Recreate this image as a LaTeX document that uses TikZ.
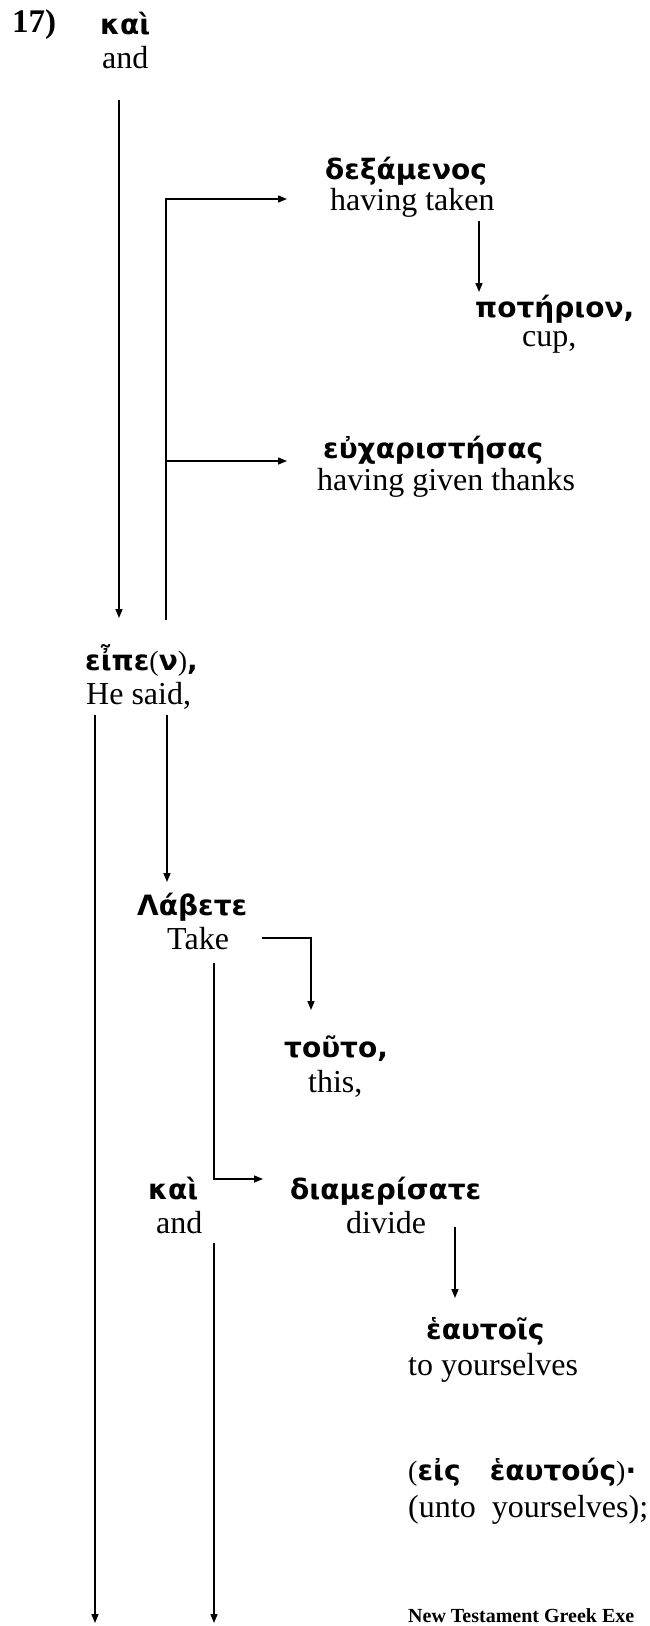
\documentclass[tikz,border=0pt]{standalone}
\usepackage{fontspec}
\setmainfont{Liberation Serif}
\newfontfamily\grk{DejaVu Sans}
\usetikzlibrary{arrows.meta}
\begin{document}
\begin{tikzpicture}[x=1pt,y=-1pt,
  en/.style={anchor=west,inner sep=0pt,font=\fontsize{32}{36}\selectfont,text height=21pt,text depth=6.5pt},
  gr/.style={anchor=west,inner sep=0pt,font=\grk\bfseries\fontsize{28}{32}\selectfont,text height=21pt,text depth=6pt},
  foot/.style={anchor=west,inner sep=0pt,font=\bfseries\fontsize{20}{24}\selectfont},
  con/.style={line width=1.4pt},
  arr/.style={con,-{Triangle[length=9pt,width=7pt]}}]
\fill[white] (0,0) rectangle (649,1626);
\useasboundingbox (0,0) rectangle (649,1626);

\node[en,font=\bfseries\fontsize{33}{36}\selectfont] (num) at (12,25) {17)};
\node[gr] (g1) at (100,27) {καὶ};
\node[en] (e1) at (102,61) {and};
\node[gr] (g2) at (325,172) {δεξάμενος};
\node[en] (e2) at (330,203) {having taken};
\node[gr] (g3) at (475,310) {ποτήριον,};
\node[en] (e3) at (522,339) {cup,};
\node[gr] (g4) at (323,451) {εὐχαριστήσας};
\node[en] (e4) at (317,483) {having given thanks};
\node[gr] (g5) at (85,663) {εἶπε{\rmfamily\mdseries(}ν{\rmfamily\mdseries)},};
\node[en] (e5) at (86,697) {He said,};
\node[gr] (g6) at (137,908) {Λάβετε};
\node[en] (e6) at (167,942) {Take};
\node[gr] (g7) at (284,1050) {τοῦτο,};
\node[en] (e7) at (308,1085) {this,};
\node[gr] (g8) at (148,1192) {καὶ};
\node[en] (e8) at (156,1226) {and};
\node[gr] (g9) at (290,1192) {διαμερίσατε};
\node[en] (e9) at (346,1226) {divide};
\node[gr] (g10) at (426,1332) {ἑαυτοῖς};
\node[en] (e10) at (408,1368) {to yourselves};
\node[gr] (g11) at (408,1473) {{\rmfamily\mdseries(}εἰς\ \ \ ἑαυτούς{\rmfamily\mdseries)}·};
\node[en] (e11) at (408,1510) {(unto\ \ yourselves);};
\node[foot] (ft) at (408,1616) {New Testament Greek Exe};

% free ends of connectors
\coordinate (a1) at (119,100);
\coordinate (a2) at (119,618);
\coordinate (b1) at (166,620);
\coordinate (b2) at (166,199);
\coordinate (b3) at (287,199);
\coordinate (b4) at (166,461);
\coordinate (b5) at (287,461);
\coordinate (c1) at (479,221);
\coordinate (c2) at (479,292);
\coordinate (d1) at (167,715);
\coordinate (d2) at (167,882);
\coordinate (f1) at (95,715);
\coordinate (f2) at (95,1623);
\coordinate (t1) at (262,938);
\coordinate (t2) at (311,938);
\coordinate (t3) at (311,1010);
\coordinate (h1) at (214,963);
\coordinate (h2) at (214,1179);
\coordinate (h3) at (263,1179);
\coordinate (v1) at (455,1227);
\coordinate (v2) at (455,1298);
\coordinate (k1) at (214,1243);
\coordinate (k2) at (214,1623);

\draw[arr] (a1) -- (a2);
\draw[arr] (b1) -- (b2) -- (b3);
\draw[arr] (b4) -- (b5);
\draw[arr] (c1) -- (c2);
\draw[arr] (d1) -- (d2);
\draw[arr] (f1) -- (f2);
\draw[arr] (t1) -- (t2) -- (t3);
\draw[arr] (h1) -- (h2) -- (h3);
\draw[arr] (v1) -- (v2);
\draw[arr] (k1) -- (k2);
\end{tikzpicture}
\end{document}
